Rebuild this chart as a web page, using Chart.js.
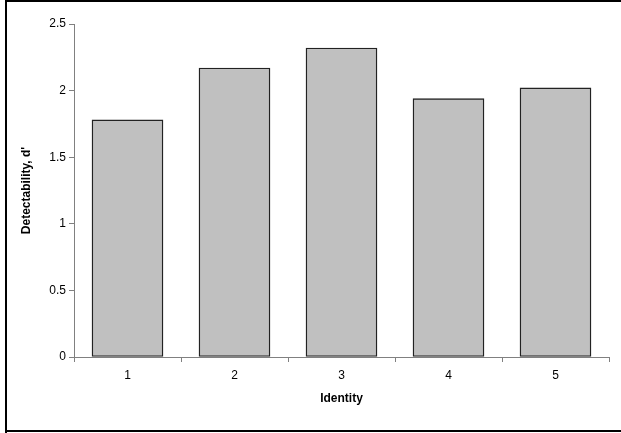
<!DOCTYPE html>
<html>
<head>
<meta charset="utf-8">
<script src="https://cdn.jsdelivr.net/npm/chart.js@4"></script>
<style>
  html, body { margin: 0; padding: 0; background: #ffffff; }
  canvas { display: block; }
</style>
</head>
<body>
<canvas id="c" width="621" height="433"></canvas>
<script>
const categories = ["1", "2", "3", "4", "5"];
const detectability = [1.78, 2.17, 2.32, 1.94, 2.02];
const yTicks = [0, 0.5, 1, 1.5, 2, 2.5];
const yTitle = "Detectability, d'";
const xTitle = "Identity";

const framePlugin = {
  id: 'frame',
  beforeDraw(chart) {
    const ctx = chart.ctx;
    ctx.save();
    ctx.fillStyle = '#ffffff';
    ctx.fillRect(0, 0, chart.width, chart.height);
    ctx.restore();
  },
  afterDraw(chart) {
    const ctx = chart.ctx;
    ctx.save();
    ctx.fillStyle = '#000000';
    ctx.fillRect(5, 0, 616, 2);
    ctx.fillRect(5, 0, 2, 433);
    ctx.fillRect(5, 430, 616, 2);
    ctx.restore();
  }
};

const fontFamily = "'Liberation Sans', Arial, sans-serif";

new Chart(document.getElementById('c'), {
  type: 'bar',
  data: {
    labels: categories,
    datasets: [{
      data: detectability,
      backgroundColor: '#c0c0c0',
      borderColor: '#222222',
      borderWidth: 1.4,
      borderSkipped: false,
      barThickness: 71
    }]
  },
  options: {
    responsive: false,
    animation: false,
    devicePixelRatio: 1,
    layout: { padding: { left: 0, top: 24, right: 12, bottom: 0 } },
    plugins: {
      legend: { display: false },
      tooltip: { enabled: false }
    },
    scales: {
      x: {
        offset: true,
        grid: {
          offset: true,
          drawOnChartArea: false,
          drawTicks: true,
          tickLength: 5,
          color: '#808080'
        },
        border: { color: '#808080', width: 1 },
        ticks: {
          color: '#000000',
          padding: 6,
          font: { family: fontFamily, size: 12 }
        },
        title: {
          display: true,
          text: xTitle,
          color: '#000000',
          font: { family: fontFamily, size: 12, weight: 'bold' },
          padding: { top: 0, bottom: 27 }
        },
        afterFit(scale) { scale.height = 76; }
      },
      y: {
        min: 0,
        max: 2.5,
        afterBuildTicks(scale) { scale.ticks = yTicks.map(v => ({ value: v })); },
        grid: {
          drawOnChartArea: false,
          drawTicks: true,
          tickLength: 5,
          color: '#808080'
        },
        border: { color: '#808080', width: 1 },
        ticks: {
          color: '#000000',
          padding: 3,
          font: { family: fontFamily, size: 12 },
          callback: (v) => String(v)
        },
        title: {
          display: true,
          text: yTitle,
          color: '#000000',
          font: { family: fontFamily, size: 12, weight: 'bold' },
          padding: { top: 19, bottom: 0 }
        },
        afterFit(scale) { scale.width = 74; }
      }
    }
  },
  plugins: [framePlugin]
});
</script>
</body>
</html>
